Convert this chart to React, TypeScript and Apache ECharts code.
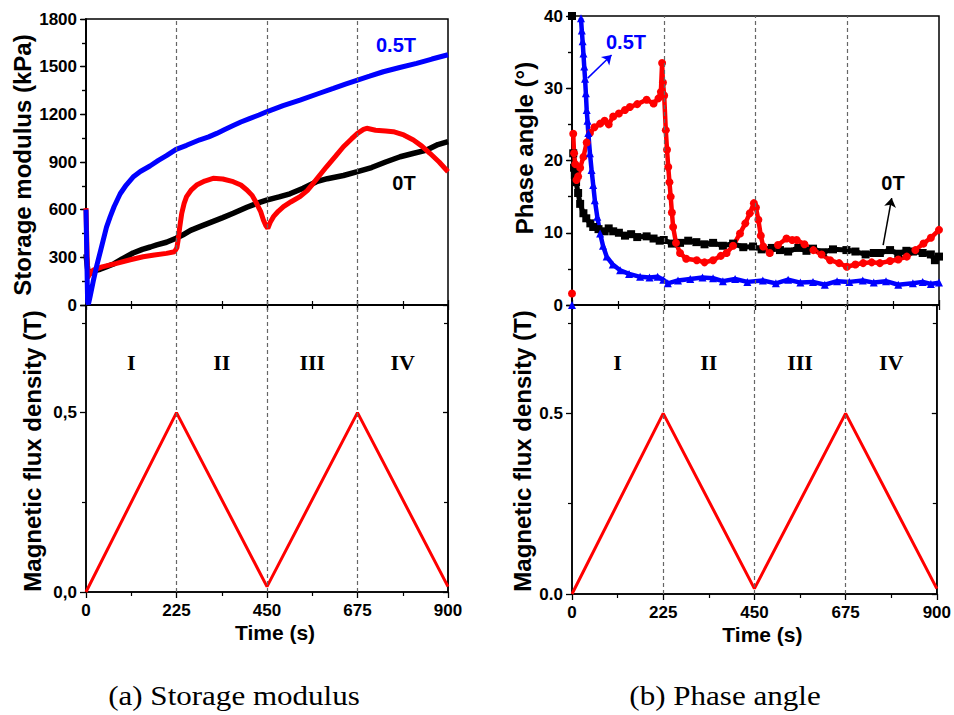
import React, { useEffect, useRef } from "react";
import * as echarts from "echarts";

// ---------- data ----------
const timeTicks = [0, 225, 450, 675, 900];
const regionLabels = ["I", "II", "III", "IV"];
const regionCenters = [112.5, 337.5, 562.5, 787.5];
const regionLabelLevel = 0.64;
const boundaries = [225, 450, 675];

// (a) storage modulus (kPa)
const gBlue: number[][] = [[0,600],[2,300],[4,20],[6,5],[10,50],[18,150],[26,240],[35,330],[43,410],[51,490],[60,555],[70,620],[85,700],[100,755],[117,805],[135,840],[159,875],[180,910],[200,940],[224,980],[250,1005],[283,1040],[305,1058],[325,1080],[345,1105],[366,1130],[385,1152],[408,1175],[430,1196],[449,1216],[490,1255],[532,1290],[575,1328],[615,1363],[645,1390],[675,1416],[705,1440],[739,1468],[780,1495],[822,1521],[860,1548],[900,1575]];
const gBlack: number[][] = [[0,320],[3,250],[6,190],[10,200],[20,215],[35,225],[50,240],[70,260],[90,290],[117,327],[140,350],[160,365],[176,378],[200,395],[224,420],[240,440],[260,470],[283,493],[310,520],[340,550],[366,577],[400,615],[430,645],[449,660],[480,680],[507,700],[540,735],[573,776],[600,795],[640,815],[675,839],[710,865],[745,900],[781,933],[815,955],[847,975],[875,1010],[900,1028]];
const gRed: number[][] = [[0,610],[2,400],[4,170],[8,190],[18,220],[40,240],[76,262],[110,285],[142,304],[170,315],[200,325],[220,335],[226,360],[229,409],[233,490],[238,577],[244,640],[250,682],[262,725],[275,755],[295,780],[316,797],[340,793],[366,776],[385,755],[400,724],[413,690],[424,640],[434,590],[441,535],[447,500],[452,482],[458,520],[466,556],[478,590],[491,619],[510,650],[532,682],[550,720],[565,766],[582,820],[598,870],[620,935],[640,996],[660,1045],[675,1080],[690,1105],[698,1112],[720,1100],[745,1095],[764,1091],[790,1070],[814,1038],[835,1000],[855,955],[878,900],[900,839]];

// (b) phase angle (deg); "-" marks a gap between recorded points
const pBlack: any[][] = [[0,40],[1,"-"],[3,21],[5,19],[7,18],[10,17],[15,15.5],[20,14],[28,12.7],[35,12],[45,11.3],[52,10.8],[65,10.5],[80,10.2],[90,10.6],[101,10.2],[115,10],[130,9.6],[145,9.8],[160,9.4],[183,9.5],[200,9.2],[215,8.9],[225,9.0],[245,8.5],[265,8.6],[285,8.9],[305,8.7],[325,8.4],[346,8.6],[370,8.2],[395,8.5],[420,8.0],[444,8.1],[465,7.7],[490,7.9],[510,7.6],[530,7.4],[555,7.9],[575,7.5],[591,7.8],[615,7.3],[640,7.7],[673,7.6],[695,7.4],[720,7.0],[740,7.2],[755,7.2],[780,7.6],[800,7.1],[820,7.5],[836,7.4],[860,7.2],[880,7.0],[890,6.2],[900,6.7]];
const pBlue: any[][] = [[0,0],[10,"-"],[22,39.7],[24,38],[26,36.5],[28,34.8],[30,33],[32,31.3],[34,29.3],[36,27],[38,25.5],[40,23.8],[44,21],[48,18.7],[52,16.6],[56,14.5],[62,12.2],[69,9.9],[76,8.2],[85,6.7],[100,5.6],[118,4.8],[140,4.3],[167,3.9],[190,3.8],[210,3.9],[224,3.5],[235,3.0],[260,3.4],[290,3.6],[320,3.8],[346,3.7],[370,3.3],[400,3.6],[430,3.2],[468,3.4],[500,3.0],[530,3.5],[560,3.1],[591,3.2],[620,2.8],[650,3.3],[680,3.2],[713,3.4],[740,3.1],[770,3.3],[800,2.8],[836,3.0],[860,3.2],[880,2.9],[900,3.1]];
const pRed: any[][] = [[0,1.6],[1,"-"],[3,23.7],[5,21],[8,19.5],[11,17.3],[15,17.8],[20,19],[28,20.5],[36,22.5],[44,23.8],[55,24.6],[69,25.1],[80,25.5],[90,25],[101,26.1],[115,26.5],[130,27],[142,27.4],[160,27.8],[183,28.4],[200,27.9],[212,28.6],[218,29.5],[221,33.5],[223,30.8],[226,29],[230,24.2],[233,21.5],[236,19.1],[239,17],[242,15],[245,12.8],[248,10.8],[255,8.6],[265,7.2],[280,6.4],[306,6.2],[325,5.9],[346,6.2],[365,6.8],[379,7.2],[395,8.2],[412,9.9],[425,11.3],[436,12.7],[446,14.1],[451,13.5],[457,11.8],[463,9.6],[469,8.1],[485,7.2],[505,8.3],[526,9.2],[540,9.0],[551,9.0],[570,8.4],[592,7.6],[612,7.0],[633,6.2],[655,5.8],[674,5.3],[695,5.6],[714,5.8],[735,5.9],[755,5.8],[780,6.1],[800,6.3],[821,6.7],[842,7.6],[862,8.5],[880,9.3],[900,10.4]];

// magnetic flux density (T)
const flux: number[][] = [[0,0],[225,0.5],[450,0.015],[675,0.5],[900,0.015]];

// annotation arrows (data coords)
const blueArrow = [[38.5, 31.4], [97, 34.6]];
const blackArrow = [[763, 8.3], [784, 14.8]];

// ---------- styling ----------
const SANS = "'Liberation Sans', Arial, sans-serif";
const SERIF = "'Liberation Serif', 'Times New Roman', serif";

const grids = [
  { left: 86, top: 19, width: 362, height: 286 },
  { left: 86, top: 305, width: 362, height: 287 },
  { left: 572, top: 16, width: 367, height: 289 },
  { left: 572, top: 305, width: 367, height: 289 },
];

const axisLine = { show: true, lineStyle: { color: "#000", width: 1.5 } };
const tickLab = { color: "#000", fontFamily: SANS, fontWeight: "bold" as const, fontSize: 17 };

function xAx(gridIndex: number, position: string, labels: boolean) {
  return {
    type: "value", gridIndex, position, min: 0, max: 900, interval: 225,
    axisLine,
    axisTick: { show: true, inside: !labels, length: labels ? 6 : 5, lineStyle: { color: "#000", width: 1.3 } },
    minorTick: { show: true, splitNumber: 2, length: 4, lineStyle: { color: "#000", width: 1.2 } },
    axisLabel: labels ? { ...tickLab, margin: 10, formatter: (v: number) => String(v) } : { show: false },
    splitLine: { show: false },
    ...(labels ? { name: "Time (s)", nameLocation: "middle", nameGap: 30,
      nameTextStyle: { color: "#000", fontFamily: SANS, fontWeight: "bold", fontSize: 21, padding: [0, 0, 0, 16] } } : {}),
  };
}

function yAx(gridIndex: number, position: string, min: number, max: number, interval: number, labels: boolean, fmt?: (v: number) => string) {
  return {
    type: "value", gridIndex, position, min, max, interval,
    axisLine,
    axisTick: { show: true, inside: !labels, length: labels ? 6 : 5, lineStyle: { color: "#000", width: 1.3 } },
    minorTick: { show: true, splitNumber: 2, length: 4, lineStyle: { color: "#000", width: 1.2 } },
    axisLabel: labels ? { ...tickLab, margin: 9, formatter: fmt || ((v: number) => String(v)) } : { show: false },
    splitLine: { show: false },
  };
}

const dashed = {
  silent: true, symbol: "none", label: { show: false },
  lineStyle: { color: "#666", type: [4, 3], width: 1.2 },
  data: boundaries.map((b) => ({ xAxis: b })),
};

function arrow(pts: number[][], color: string) {
  return {
    silent: true, symbol: ["none", "arrow"], symbolSize: 9, label: { show: false },
    lineStyle: { color, type: "solid", width: 1.5 },
    data: [[{ coord: pts[0] }, { coord: pts[1] }]],
  };
}

function regionSeries(xi: number, yi: number) {
  return {
    type: "scatter", xAxisIndex: xi, yAxisIndex: yi, symbolSize: 1, silent: true,
    itemStyle: { opacity: 0 },
    data: regionCenters.map((c, i) => ({ value: [c, regionLabelLevel], name: regionLabels[i] })),
    label: { show: true, position: "inside", formatter: (p: any) => p.name, opacity: 1,
      color: "#000", fontFamily: SERIF, fontWeight: "bold", fontSize: 22 },
  };
}

function fluxFmt(sep: string) {
  return (v: number) => (v === 0 || v === 0.5 ? v.toFixed(1).replace(".", sep) : "");
}

export default function App() {
  const ref = useRef<HTMLDivElement>(null);
  useEffect(() => {
    if (!ref.current) return;
    const chart = echarts.init(ref.current, undefined, { renderer: "svg" });
    const yName = (text: string, x: number, y: number) => ({
      type: "text", x, y, rotation: Math.PI / 2,
      style: { text, fill: "#000", font: `bold 24px ${SANS}`, textAlign: "center", textVerticalAlign: "middle" },
    });
    const txt = (text: string, x: number, y: number, color: string) => ({
      type: "text", x, y,
      style: { text, fill: color, font: `bold 20px ${SANS}`, textAlign: "center", textVerticalAlign: "middle" },
    });
    const caption = (text: string, x: number, y: number) => ({
      type: "text", x, y, scaleX: 1.15,
      style: { text, fill: "#000", font: `27px ${SERIF}`, textAlign: "center", textVerticalAlign: "middle" },
    });
    chart.setOption({
      animation: false,
      backgroundColor: "#fff",
      grid: grids.map((g) => ({ ...g, show: true, borderColor: "#000", borderWidth: 1.5, backgroundColor: "transparent" })),
      xAxis: [
        xAx(0, "bottom", false), xAx(0, "top", false), xAx(1, "bottom", true),
        xAx(2, "bottom", false), xAx(2, "top", false), xAx(3, "bottom", true),
      ],
      yAxis: [
        yAx(0, "left", 0, 1800, 300, true), yAx(0, "right", 0, 1800, 300, false),
        yAx(1, "left", 0, 0.8, 0.5, true, fluxFmt(",")), yAx(1, "right", 0, 0.8, 0.5, false),
        yAx(2, "left", 0, 40, 10, true), yAx(2, "right", 0, 40, 10, false),
        yAx(3, "left", 0, 0.8, 0.5, true, fluxFmt(".")), yAx(3, "right", 0, 0.8, 0.5, false),
      ],
      series: [
        { type: "line", xAxisIndex: 0, yAxisIndex: 0, data: gBlack, showSymbol: false, lineStyle: { color: "#000", width: 5.5 }, markLine: dashed },
        { type: "line", xAxisIndex: 0, yAxisIndex: 0, data: gRed, showSymbol: false, lineStyle: { color: "#ff0000", width: 5 } },
        { type: "line", xAxisIndex: 0, yAxisIndex: 0, data: gBlue, showSymbol: false, lineStyle: { color: "#0000ff", width: 5 } },
        { type: "line", xAxisIndex: 2, yAxisIndex: 2, data: flux, showSymbol: false, lineStyle: { color: "#ff0000", width: 3 }, markLine: dashed },
        regionSeries(2, 2),
        { type: "line", xAxisIndex: 3, yAxisIndex: 4, data: pBlack, symbol: "rect", symbolSize: 8, connectNulls: false, itemStyle: { color: "#000" }, lineStyle: { color: "#000", width: 5 }, markLine: dashed },
        { type: "line", xAxisIndex: 3, yAxisIndex: 4, data: pRed, symbol: "circle", symbolSize: 8, connectNulls: false, itemStyle: { color: "#ff0000" }, lineStyle: { color: "#ff0000", width: 4.5 }, markLine: arrow(blackArrow, "#000") },
        { type: "line", xAxisIndex: 3, yAxisIndex: 4, data: pBlue, symbol: "triangle", symbolSize: 8, connectNulls: false, itemStyle: { color: "#0000ff" }, lineStyle: { color: "#0000ff", width: 4.5 }, markLine: arrow(blueArrow, "#0000ff") },
        { type: "line", xAxisIndex: 5, yAxisIndex: 6, data: flux, showSymbol: false, lineStyle: { color: "#ff0000", width: 3 }, markLine: dashed },
        regionSeries(5, 6),
      ],
      graphic: [
        yName("Storage modulus (kPa)", 22, 165),
        yName("Magnetic flux density (T)", 32, 451),
        yName("Phase angle (°)", 524, 148),
        yName("Magnetic flux density (T)", 522, 451),
        txt("0.5T", 396, 45, "#0000ff"),
        txt("0T", 404, 183, "#000"),
        txt("0.5T", 626, 42, "#0000ff"),
        txt("0T", 893, 183, "#000"),
        caption("(a) Storage modulus", 234, 696),
        caption("(b) Phase angle", 725, 696),
      ],
    });
    return () => chart.dispose();
  }, []);
  return <div ref={ref} style={{ position: "fixed", left: 0, top: 0, width: 954, height: 715 }} />;
}
